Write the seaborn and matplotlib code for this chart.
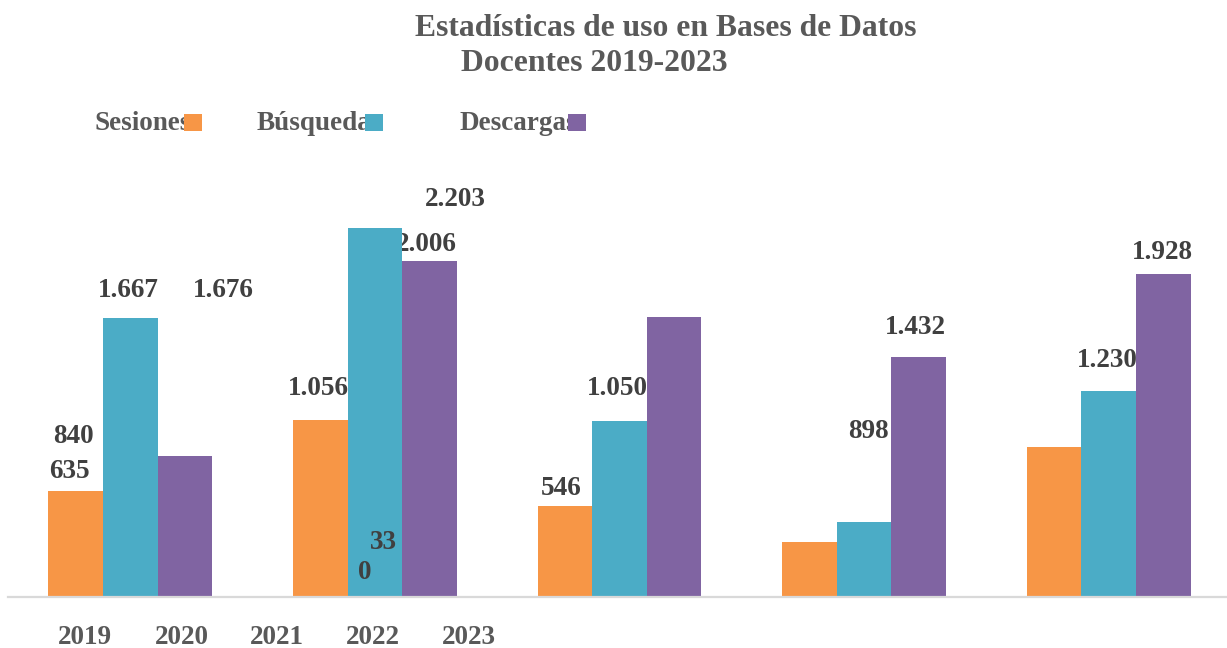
import matplotlib
matplotlib.use("Agg")
import matplotlib.pyplot as plt
from matplotlib.patches import Rectangle
import seaborn as sns
import pandas as pd

# --- data -------------------------------------------------------------
years = ["2019", "2020", "2021", "2022", "2023"]
series = ["Sesiones", "Búsquedas", "Descargas"]
sesiones = [635, 1056, 546, 330, 898]
busquedas = [1667, 2203, 1050, 450, 1230]
descargas = [840, 2006, 1676, 1432, 1928]
colors = ["#F79646", "#4BACC6", "#8064A2"]

values = {"Sesiones": sesiones, "Búsquedas": busquedas, "Descargas": descargas}
df = pd.DataFrame(
    [(y, s, values[s][i]) for s in series for i, y in enumerate(years)],
    columns=["Año", "Serie", "Valor"],
)

def fmt(v):
    return f"{v:,}".replace(",", ".")

# --- figure -----------------------------------------------------------
W, H = 1227, 648
sns.set_theme(style="white")
plt.rcParams["font.family"] = ["Liberation Serif", "DejaVu Serif"]
fig = plt.figure(figsize=(W / 100, H / 100), dpi=100)
ax = fig.add_axes([8 / W, 1 - 597 / H, 1223 / W, 435 / H])

sns.barplot(data=df, x="Año", y="Valor", hue="Serie", order=years,
            hue_order=series, palette=colors, width=0.67, saturation=1,
            errorbar=None, legend=False, ax=ax, zorder=2,
            linewidth=0, edgecolor="none")

ax.set_xlim(-0.5, len(years) - 0.5)
ax.set_ylim(0, 2600)
ax.set_xlabel("")
ax.set_ylabel("")
ax.set_yticks([])
for side in ("top", "left", "right"):
    ax.spines[side].set_visible(False)
ax.spines["bottom"].set_color("#D9D9D9")
ax.spines["bottom"].set_linewidth(1.6)

def to_data(px, py):
    return ax.transData.inverted().transform((px, H - py))

# year labels along the category axis
text_gray = "#595959"
label_gray = "#404040"
year_px = [85, 182, 277, 373, 469]
ax.set_xticks([to_data(p, 597)[0] for p in year_px], labels=years)
ax.tick_params(axis="x", length=0, pad=20, labelsize=19.5,
               labelcolor=text_gray)
for t in ax.get_xticklabels():
    t.set_fontweight("bold")

# value labels: (series, index, x center px, baseline px, zorder)
spots = [
    ("Descargas", 0, 73, 443, 3),
    ("Sesiones", 0, 69, 478, 3),
    ("Búsquedas", 0, 128, 297, 3),
    ("Descargas", 2, 223, 297, 3),
    ("Sesiones", 1, 318, 395, 3),
    ("Búsquedas", 1, 455, 206, 3),
    ("Descargas", 1, 426, 251, 1),
    ("Sesiones", 2, 561, 495, 3),
    ("Búsquedas", 2, 617, 395, 3),
    ("Sesiones", 4, 868, 438, 3),
    ("Descargas", 3, 915, 334, 3),
    ("Búsquedas", 4, 1107, 367, 3),
    ("Descargas", 4, 1162, 259, 3),
]
lab_kw = dict(ha="center", va="baseline", fontsize=19.5, fontweight="bold",
              color=label_gray)
for s, i, px, py, z in spots:
    x, y = to_data(px, py)
    ax.text(x, y, fmt(values[s][i]), zorder=z, **lab_kw)

# the 2021 session count wraps onto two lines
wrapped = fmt(sesiones[3])
x, y = to_data(383, 549)
ax.text(x, y, wrapped[:2], zorder=3, **lab_kw)
x, y = to_data(365, 579)
ax.text(x, y, wrapped[2:], zorder=3, **lab_kw)

# title
title_kw = dict(ha="center", va="baseline", fontsize=22.8, fontweight="bold",
                color=text_gray)
fig.text(666 / W, 1 - 36 / H, "Estadísticas de uso en Bases de Datos", **title_kw)
fig.text(594 / W, 1 - 71 / H, "Docentes 2019-2023", **title_kw)

# legend
leg_text_x = [94, 257, 460]
leg_box_x = [184, 365, 568]
for name, c, tx, bx in zip(series, colors, leg_text_x, leg_box_x):
    fig.text(tx / W, 1 - 130 / H, name, ha="left", va="baseline",
             fontsize=19.5, fontweight="bold", color=text_gray, zorder=1)
    fig.patches.append(Rectangle((bx / W, 1 - 131 / H), 18 / W, 17 / H,
                                 transform=fig.transFigure, facecolor=c,
                                 edgecolor="none", zorder=5))

fig.savefig("out.png", dpi=100, facecolor="white")
